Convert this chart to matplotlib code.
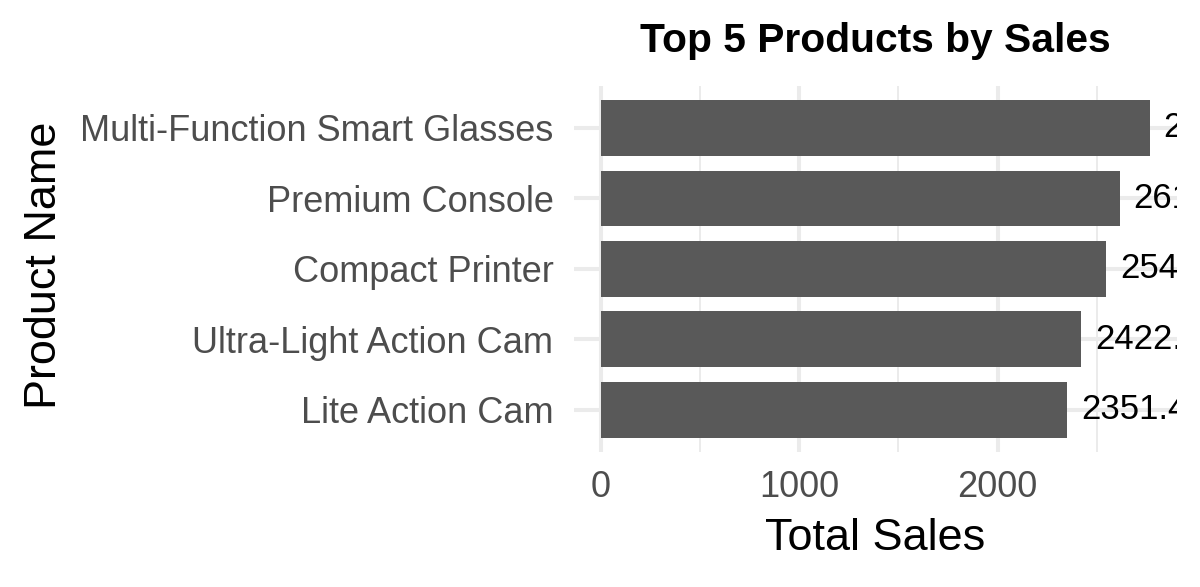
import matplotlib
matplotlib.use("Agg")
import matplotlib.pyplot as plt
from matplotlib.ticker import MultipleLocator

products = ["Lite Action Cam", "Ultra-Light Action Cam", "Compact Printer",
            "Premium Console", "Multi-Function Smart Glasses"]
sales = [2351.4, 2422.3, 2547.8, 2614.9, 2766.2]
xticks = [0, 1000, 2000]

plt.rcParams['font.family'] = ['Liberation Sans', 'DejaVu Sans']

W, H, DPI = 1200, 587, 200
fig = plt.figure(figsize=(W / DPI, H / DPI), dpi=DPI)
left, right, top, bottom = 573.5 / W, 1177 / W, 1 - 85.7 / H, 1 - 452 / H
ax = fig.add_axes([left, bottom, right - left, top - bottom])

grid_c = "#EBEBEB"
ypos = list(range(len(products)))
ax.barh(ypos, sales, height=0.79, color="#595959", zorder=3)

mx = max(sales)
ax.set_xlim(-0.05 * mx, 1.05 * mx)
ax.set_ylim(-0.6, len(products) - 0.4)

ax.set_xticks(xticks)
ax.xaxis.set_minor_locator(MultipleLocator(500))
ax.set_yticks(ypos)
ax.set_yticklabels(products)
ax.tick_params(axis='both', which='both', length=0, labelsize=13, labelcolor="#4D4D4D")
ax.tick_params(axis='y', pad=7.2)
ax.tick_params(axis='x', pad=6.5)

ax.grid(True, which='major', axis='both', color=grid_c, linewidth=1.45, zorder=0)
ax.grid(True, which='minor', axis='x', color=grid_c, linewidth=0.72, zorder=0)
ax.set_axisbelow(True)
for s in ax.spines.values():
    s.set_visible(False)

for y, v in zip(ypos, sales):
    ax.annotate(f"{v:.1f}", xy=(v, y), xytext=(4.9, 0), textcoords="offset points",
                ha="left", va="center", fontsize=12.5, color="black",
                annotation_clip=False, clip_on=True, zorder=4)

fig.text(875 / W, 1 - 41 / H, "Top 5 Products by Sales", ha="center", va="center",
         fontsize=14.7, fontweight="bold", color="black")
fig.text(875 / W, 1 - 538 / H, "Total Sales", ha="center", va="center",
         fontsize=16.2, color="black")
fig.text(45 / W, 1 - 265 / H, "Product Name", ha="center", va="center",
         rotation=90, fontsize=16.2, color="black")

fig.savefig("out.png", dpi=DPI, facecolor="white")
